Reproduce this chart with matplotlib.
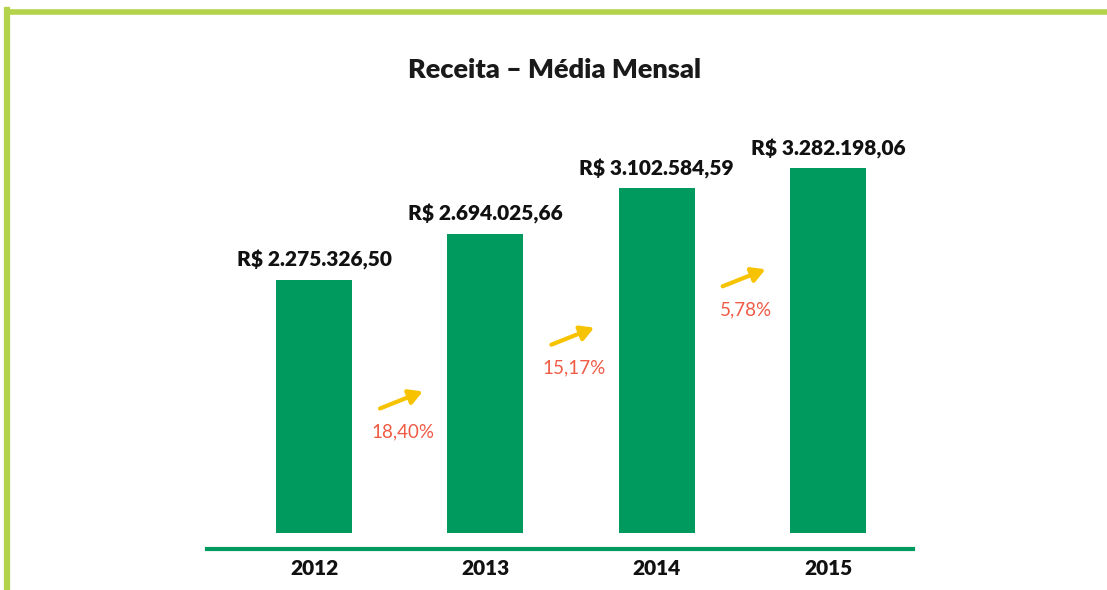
import matplotlib.pyplot as plt
from matplotlib.lines import Line2D
import matplotlib.transforms as mtransforms

# data
years = ['2012', '2013', '2014', '2015']
receita = [2275326.50, 2694025.66, 3102584.59, 3282198.06]
value_labels = ['R$ 2.275.326,50', 'R$ 2.694.025,66', 'R$ 3.102.584,59', 'R$ 3.282.198,06']
growth_labels = ['18,40%', '15,17%', '5,78%']

GREEN = '#009a5e'
LIME = '#b3d34a'
YELLOW = '#f7c300'
RED = '#ef5a45'
FONT = ['Lato', 'DejaVu Sans']

plt.rcParams['font.family'] = FONT

W, H = 1107, 590
fig = plt.figure(figsize=(W / 100, H / 100), dpi=100)

# frame on top and left
fig.add_artist(Line2D([7 / W, 1], [1 - 11.5 / H, 1 - 11.5 / H], color=LIME, lw=4, transform=fig.transFigure))
fig.add_artist(Line2D([7 / W, 7 / W], [0, 1 - 9.5 / H], color=LIME, lw=4.5, transform=fig.transFigure))

fig.text(555 / W, 1 - 70 / H, 'Receita – Média Mensal', ha='center', va='center',
         fontsize=19.5, fontweight='heavy', color='#1a1a1a')

ax = fig.add_axes([207 / W, 1 - 549 / H, (913 - 207) / W, (549 - 100) / H])
px = 9000.0
ax.set_xlim(-0.625, 3.496)
ax.set_ylim(-16 * px, (533 - 100) * px)

x = list(range(len(years)))
bars = ax.bar(x, receita, width=0.444, color=GREEN)

for xi, v, lab in zip(x, receita, value_labels):
    ax.annotate(lab, (xi, v), xytext=(0, 7), textcoords='offset points',
                ha='center', va='bottom', fontsize=15, fontweight='heavy', color='#111111')

# growth arrows between bars
arrow_y = [0.332, 0.474, 0.604]  # axes fraction of arrow centre
trans = mtransforms.blended_transform_factory(ax.transData, ax.transAxes)
for i, g in enumerate(growth_labels):
    xm = (x[i] + x[i + 1]) / 2
    ya = arrow_y[i]
    ax.annotate('', xy=(xm + 0.135, ya + 0.019), xytext=(xm - 0.115, ya - 0.019),
                xycoords=trans, textcoords=trans,
                arrowprops=dict(arrowstyle='-|>,head_length=0.8,head_width=0.45', color=YELLOW, lw=3,
                                shrinkA=0, shrinkB=0))
    ax.text(xm + 0.02, ya - 0.071, g, transform=trans, ha='center', va='center',
            fontsize=13.5, color=RED, fontweight='normal')

for s in ['top', 'right', 'left']:
    ax.spines[s].set_visible(False)
ax.spines['bottom'].set_color(GREEN)
ax.spines['bottom'].set_linewidth(3)
ax.set_yticks([])
ax.set_xticks(x)
ax.set_xticklabels(years, fontsize=15, fontweight='heavy', color='#111111')
ax.tick_params(axis='x', length=0, pad=7)

fig.savefig('out.png', dpi=100)
